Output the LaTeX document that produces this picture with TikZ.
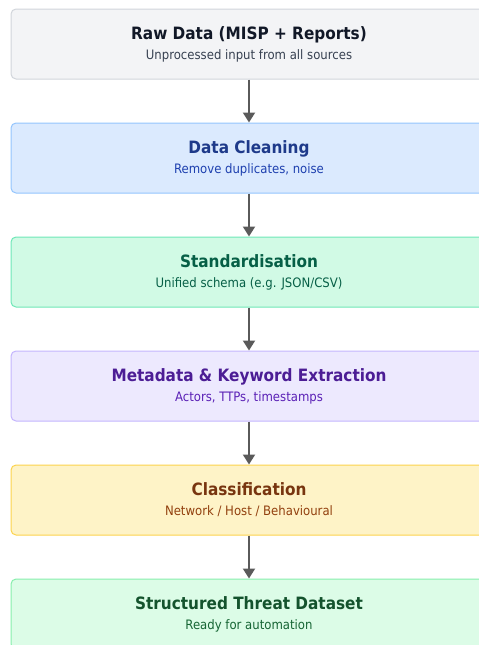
\documentclass[tikz,border=0pt]{standalone}
\usepackage{fontspec}
\setmainfont{DejaVu Sans Condensed}
\usepackage{xcolor}
\usetikzlibrary{arrows.meta}

\definecolor{grayfill}{HTML}{F3F4F6}
\definecolor{grayline}{HTML}{D1D5DB}
\definecolor{graytext}{HTML}{111827}
\definecolor{graysub}{HTML}{374151}
\definecolor{bluefill}{HTML}{DBEAFE}
\definecolor{blueline}{HTML}{93C5FD}
\definecolor{bluetext}{HTML}{1E3A8A}
\definecolor{bluesub}{HTML}{1E40AF}
\definecolor{greenfill}{HTML}{D1FAE5}
\definecolor{greenline}{HTML}{6EE7B7}
\definecolor{greentext}{HTML}{065F46}
\definecolor{greensub}{HTML}{065F46}
\definecolor{violetfill}{HTML}{EDE9FE}
\definecolor{violetline}{HTML}{C4B5FD}
\definecolor{violettext}{HTML}{4C1D95}
\definecolor{violetsub}{HTML}{5B21B6}
\definecolor{amberfill}{HTML}{FEF3C7}
\definecolor{amberline}{HTML}{FCD34D}
\definecolor{ambertext}{HTML}{78350F}
\definecolor{ambersub}{HTML}{92400E}
\definecolor{mintfill}{HTML}{DCFCE7}
\definecolor{mintline}{HTML}{86EFAC}
\definecolor{minttext}{HTML}{14532D}
\definecolor{mintsub}{HTML}{166534}
\definecolor{arrowgray}{HTML}{5A5A5A}

\begin{document}
\begin{tikzpicture}
[
x=1pt, y=-1pt,
stagebox/.style={rectangle, line width=1pt, rounded corners=5pt, minimum width=476pt, minimum height=70pt, inner sep=0pt},
ttl/.style={font=\fontsize{17}{19}\selectfont\bfseries, inner sep=0pt, anchor=base, yshift=5pt},
sub/.style={font=\fontsize{13}{15}\selectfont, inner sep=0pt, anchor=base, yshift=-15pt},
flow/.style={-{Triangle[length=10pt,width=12pt]}, line width=2pt, draw=arrowgray},
]
\useasboundingbox (0,0) rectangle (479,645);

\node at (249,44) [stagebox, fill=grayfill, draw=grayline]      (raw)     {};
\node at (raw) [ttl, text=graytext]      (rawtitle)     {Raw Data (MISP + Reports)};
\node at (raw) [sub, text=graysub]      (rawsub)     {Unprocessed input from all sources};

\node at (249,158) [stagebox, fill=bluefill, draw=blueline]      (clean)     {};
\node at (clean) [ttl, text=bluetext]      (cleantitle)     {Data Cleaning};
\node at (clean) [sub, text=bluesub]      (cleansub)     {Remove duplicates, noise};

\node at (249,272) [stagebox, fill=greenfill, draw=greenline]      (std)     {};
\node at (std) [ttl, text=greentext]      (stdtitle)     {Standardisation};
\node at (std) [sub, text=greensub]      (stdsub)     {Unified schema (e.g. JSON/CSV)};

\node at (249,386) [stagebox, fill=violetfill, draw=violetline]      (meta)     {};
\node at (meta) [ttl, text=violettext]      (metatitle)     {Metadata \& Keyword Extraction};
\node at (meta) [sub, text=violetsub]      (metasub)     {Actors, TTPs, timestamps};

\node at (249,500) [stagebox, fill=amberfill, draw=amberline]      (cls)     {};
\node at (cls) [ttl, text=ambertext]      (clstitle)     {Classification};
\node at (cls) [sub, text=ambersub]      (clssub)     {Network / Host / Behavioural};

\node at (249,614) [stagebox, fill=mintfill, draw=mintline]      (out)     {};
\node at (out) [ttl, text=minttext]      (outtitle)     {Structured Threat Dataset};
\node at (out) [sub, text=mintsub]      (outsub)     {Ready for automation};

\draw[flow] (raw) -- (clean);
\draw[flow] (clean) -- (std);
\draw[flow] (std) -- (meta);
\draw[flow] (meta) -- (cls);
\draw[flow] (cls) -- (out);
\end{tikzpicture}
\end{document}
